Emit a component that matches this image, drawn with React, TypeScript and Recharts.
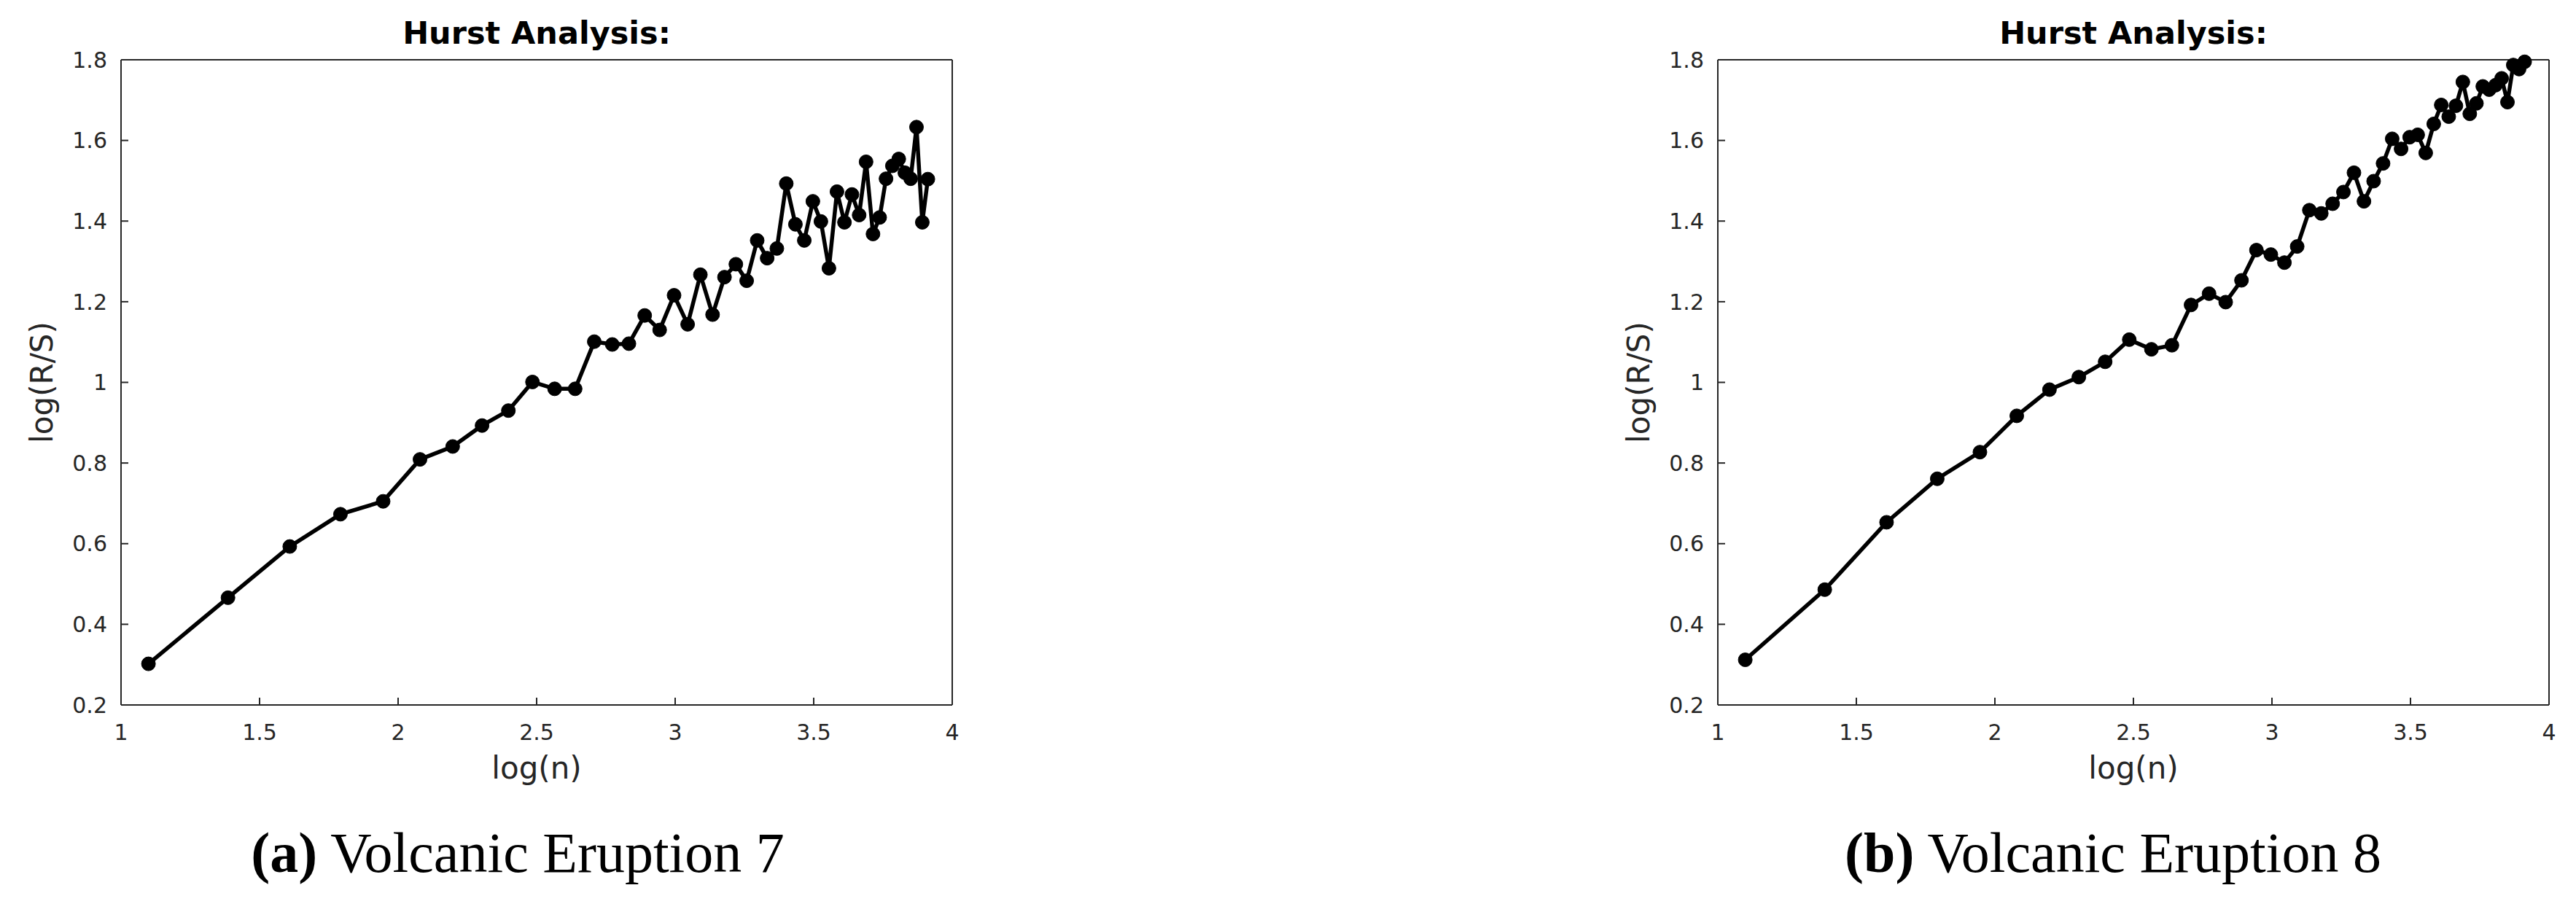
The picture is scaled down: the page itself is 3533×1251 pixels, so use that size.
import { Line, LineChart, XAxis, YAxis } from 'recharts';

// log(n) for window sizes n = 3..50
const logN = [
  1.099, 1.386, 1.609, 1.792, 1.946, 2.079, 2.197, 2.303, 2.398, 2.485, 2.565, 2.639,
  2.708, 2.773, 2.833, 2.89, 2.944, 2.996, 3.045, 3.091, 3.135, 3.178, 3.219, 3.258,
  3.296, 3.332, 3.367, 3.401, 3.434, 3.466, 3.497, 3.526, 3.555, 3.584, 3.611, 3.638,
  3.664, 3.689, 3.714, 3.738, 3.761, 3.784, 3.807, 3.829, 3.85, 3.871, 3.892, 3.912,
];

const eruption7 = [
  0.302, 0.466, 0.593, 0.673, 0.705, 0.809, 0.841, 0.893, 0.93, 1.001, 0.984, 0.984,
  1.101, 1.094, 1.096, 1.166, 1.13, 1.216, 1.144, 1.267, 1.168, 1.261, 1.293, 1.252,
  1.352, 1.308, 1.332, 1.493, 1.392, 1.352, 1.449, 1.399, 1.283, 1.473, 1.397, 1.466,
  1.415, 1.547, 1.368, 1.409, 1.505, 1.537, 1.554, 1.52, 1.505, 1.633, 1.397, 1.504,
];

const eruption8 = [
  0.312, 0.486, 0.653, 0.761, 0.827, 0.917, 0.982, 1.013, 1.051, 1.106, 1.082, 1.092,
  1.192, 1.22, 1.199, 1.253, 1.328, 1.317, 1.297, 1.337, 1.427, 1.419, 1.443, 1.472,
  1.52, 1.449, 1.499, 1.543, 1.604, 1.579, 1.608, 1.614, 1.569, 1.641, 1.688, 1.659,
  1.686, 1.745, 1.666, 1.692, 1.734, 1.726, 1.737, 1.754, 1.695, 1.787, 1.777, 1.795,
];

const xTicks = [1, 1.5, 2, 2.5, 3, 3.5, 4];
const yTicks = [0.2, 0.4, 0.6, 0.8, 1, 1.2, 1.4, 1.6, 1.8];

const AXIS = '#262626';
const SANS = '"DejaVu Sans", sans-serif';
const SERIF = '"Liberation Serif", serif';

const tickStyle = { fontSize: 30, fill: AXIS, fontFamily: SANS };
const axisLine = { stroke: AXIS, strokeWidth: 2 };

function HurstPlot({ values, left }: { values: number[]; left: number }) {
  const data = logN.map((x, i) => ({ x, y: values[i] }));

  return (
    <div style={{ position: 'absolute', left, top: 0, width: 1400, height: 1100 }}>
      <div
        style={{
          position: 'absolute',
          left: 336,
          top: 24,
          width: 800,
          textAlign: 'center',
          fontFamily: SANS,
          fontWeight: 'bold',
          fontSize: 43,
          lineHeight: '43px',
          color: '#000',
          zIndex: 1,
        }}
      >
        Hurst Analysis:
      </div>
      <LineChart width={1400} height={1100} data={data} margin={{ top: 80, right: 92, bottom: 73, left: 26 }}>
        <XAxis
          xAxisId="bottom"
          dataKey="x"
          type="number"
          domain={[1, 4]}
          ticks={xTicks}
          height={60}
          tickSize={-10}
          tickMargin={37}
          tick={tickStyle}
          axisLine={axisLine}
          tickLine={axisLine}
          label={{ value: 'log(n)', position: 'bottom', offset: 11, fill: AXIS, fontSize: 42, fontFamily: SANS }}
        />
        <XAxis
          xAxisId="top"
          orientation="top"
          dataKey="x"
          type="number"
          domain={[1, 4]}
          ticks={xTicks}
          height={2}
          tickSize={-10}
          tick={false}
          axisLine={axisLine}
          tickLine={axisLine}
        />
        <YAxis
          yAxisId="left"
          type="number"
          domain={[0.2, 1.8]}
          ticks={yTicks}
          width={140}
          tickSize={-10}
          tickMargin={29}
          tick={tickStyle}
          axisLine={axisLine}
          tickLine={axisLine}
          label={{
            value: 'log(R/S)',
            angle: -90,
            position: 'insideLeft',
            offset: 31,
            fill: AXIS,
            fontSize: 42,
            fontFamily: SANS,
            style: { textAnchor: 'middle' },
          }}
        />
        <YAxis
          yAxisId="right"
          orientation="right"
          type="number"
          domain={[0.2, 1.8]}
          ticks={yTicks}
          width={2}
          tickSize={-10}
          tick={false}
          axisLine={axisLine}
          tickLine={axisLine}
        />
        <Line
          xAxisId="bottom"
          yAxisId="left"
          type="linear"
          dataKey="y"
          stroke="#000"
          strokeWidth={5.5}
          dot={{ r: 9.5, fill: '#000', stroke: '#000', strokeWidth: 1 }}
          isAnimationActive={false}
        />
      </LineChart>
    </div>
  );
}

function Caption({ tag, text, center }: { tag: string; text: string; center: number }) {
  return (
    <div
      style={{
        position: 'absolute',
        left: center - 600,
        top: 1131,
        width: 1200,
        textAlign: 'center',
        fontFamily: SERIF,
        fontSize: 78,
        lineHeight: '78px',
        color: '#000',
      }}
    >
      <b>{tag}</b> {text}
    </div>
  );
}

export default function App() {
  return (
    <div
      style={{
        position: 'absolute',
        left: 0,
        top: 0,
        width: 3533,
        height: 1251,
        background: '#fff',
        overflow: 'hidden',
      }}
    >
      <HurstPlot values={eruption7} left={0} />
      <HurstPlot values={eruption8} left={2190} />
      <Caption tag="(a)" text="Volcanic Eruption 7" center={710} />
      <Caption tag="(b)" text="Volcanic Eruption 8" center={2898} />
    </div>
  );
}
